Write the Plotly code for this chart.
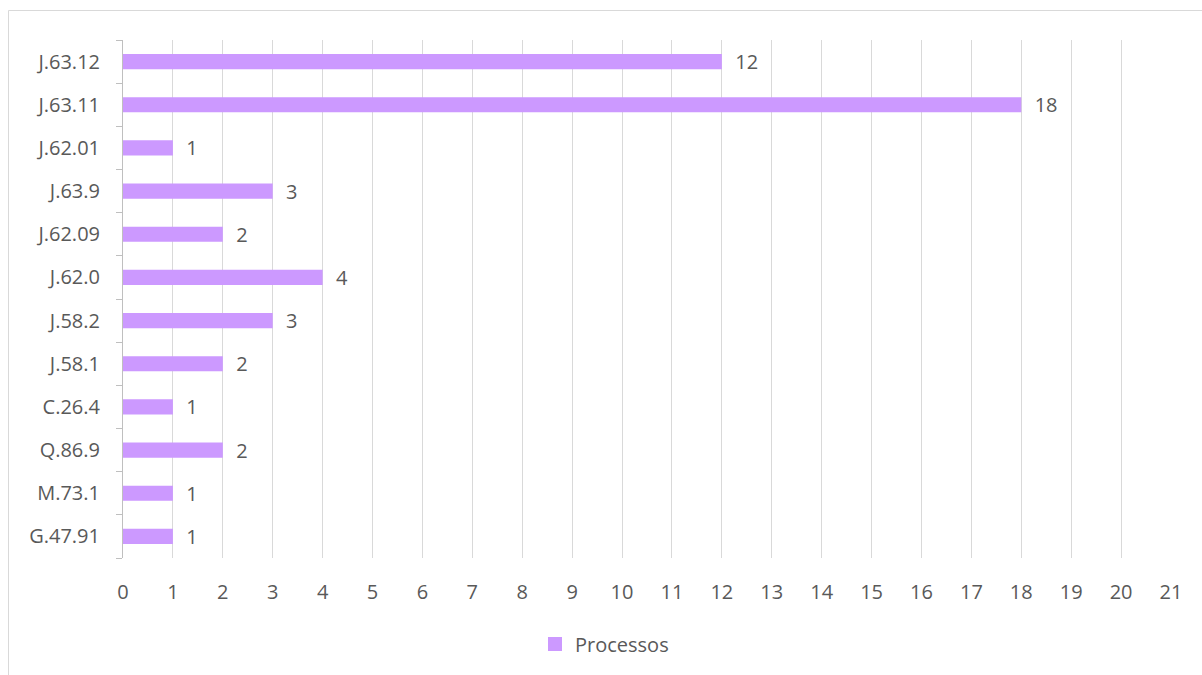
import plotly.graph_objects as go

categories = ["G.47.91", "M.73.1", "Q.86.9", "C.26.4", "J.58.1", "J.58.2",
              "J.62.0", "J.62.09", "J.63.9", "J.62.01", "J.63.11", "J.63.12"]
values = [1, 1, 2, 1, 2, 3, 4, 2, 3, 1, 18, 12]
x_ticks = list(range(0, 22))
series_name = "Processos"
bar_color = "#CC99FF"

W, H = 1202, 675
L, R, T, B = 123, 31, 40, 117
pw, ph = W - L - R, H - T - B

font = dict(family="Open Sans, Liberation Sans, sans-serif", size=20, color="#595959")

fig = go.Figure()
fig.add_trace(go.Bar(
    y=categories, x=values, orientation="h", name=series_name, showlegend=False,
    marker=dict(color=bar_color, line=dict(width=0)),
    text=["  " + str(v) for v in values], textposition="outside",
    textfont=font, cliponaxis=False, constraintext="none",
))
fig.add_trace(go.Scatter(
    x=[None], y=[None], mode="markers", name=series_name, showlegend=True,
    marker=dict(symbol="square", size=14, color=bar_color),
))

def px(xp): return (xp - L) / pw
def py(yp): return (H - B - yp) / ph

fig.update_layout(
    width=W, height=H,
    margin=dict(l=L, r=R, t=T, b=B),
    plot_bgcolor="white", paper_bgcolor="white",
    font=font, bargap=0.65,
    showlegend=True,
    legend=dict(orientation="h", x=px(535), xanchor="left", y=py(644), yanchor="middle",
                font=font, itemwidth=30, itemsizing="trace"),
    xaxis=dict(range=[0, 21], tickvals=x_ticks, showgrid=True, gridcolor="#d9d9d9",
               gridwidth=1, zeroline=False, showline=False, ticks="", ticklen=0,
               ticklabelstandoff=20, tickfont=font, fixedrange=True),
    yaxis=dict(showline=True, linecolor="#bfbfbf", linewidth=1, ticks="outside",
               tickson="boundaries", ticklen=6, tickcolor="#bfbfbf", showgrid=False,
               tickfont=font, ticklabelstandoff=18, categoryorder="array", categoryarray=categories),
    shapes=[
        dict(type="line", xref="paper", yref="paper", x0=px(8.5), x1=px(1202), y0=py(10.5), y1=py(10.5),
             line=dict(color="#d9d9d9", width=1)),
        dict(type="line", xref="paper", yref="paper", x0=px(8.5), x1=px(8.5), y0=py(10.5), y1=py(675),
             line=dict(color="#d9d9d9", width=1)),
    ],
)

fig.write_html("out.html")
